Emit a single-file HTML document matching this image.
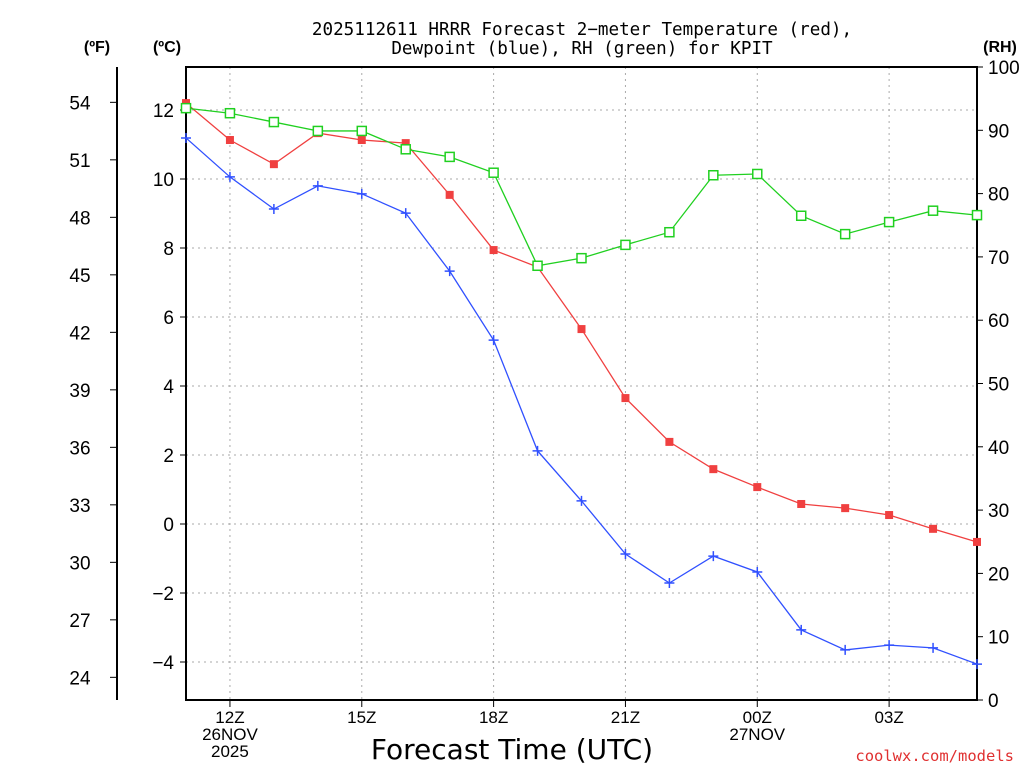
<!DOCTYPE html>
<html><head><meta charset="utf-8"><style>
body{margin:0;background:#fff;}
svg{display:block;font-family:"Liberation Sans","DejaVu Sans",sans-serif;}
</style></head><body>
<svg id="chart" width="1024" height="768">
<g id="grid"></g><g id="axes"></g><g id="series"></g>
<text x="582" y="35" font-size="17.6" font-family="DejaVu Sans Mono, monospace" text-anchor="middle">2025112611 HRRR Forecast 2−meter Temperature (red),</text>
<text x="582" y="54" font-size="17.6" font-family="DejaVu Sans Mono, monospace" text-anchor="middle">Dewpoint (blue), RH (green) for KPIT</text>
<text x="97" y="52" font-size="16" font-weight="bold" text-anchor="middle">(ºF)</text>
<text x="167" y="52" font-size="16" font-weight="bold" text-anchor="middle">(ºC)</text>
<text x="1000" y="52" font-size="16" font-weight="bold" text-anchor="middle">(RH)</text>
<text x="512" y="759" font-size="28" font-family="DejaVu Sans, sans-serif" text-anchor="middle">Forecast Time (UTC)</text>
<text x="1014" y="761" font-size="15.5" font-family="DejaVu Sans Mono, monospace" fill="#e03030" text-anchor="end">coolwx.com/models</text>
</svg>
<script>
const hours=[11,12,13,14,15,16,17,18,19,20,21,22,23,24,25,26,27,28,29];
const tempC=[12.2,11.13,10.43,11.33,11.13,11.04,9.54,7.94,7.45,5.65,3.65,2.38,1.59,1.07,0.58,0.46,0.26,-0.14,-0.52];
const dewC=[11.19,10.06,9.13,9.8,9.57,9.01,7.33,5.33,2.12,0.67,-0.87,-1.71,-0.93,-1.39,-3.07,-3.65,-3.51,-3.59,-4.06];
const rh=[93.5,92.7,91.3,89.9,89.9,87.0,85.8,83.3,68.6,69.8,71.9,73.9,82.9,83.1,76.5,73.6,75.5,77.3,76.6];
const cTicks=[-4,-2,0,2,4,6,8,10,12];
const fTicks=[24,27,30,33,36,39,42,45,48,51,54];
const rhTicks=[0,10,20,30,40,50,60,70,80,90,100];
const xTicks=[{h:12,l:["12Z","26NOV","2025"]},{h:15,l:["15Z"]},{h:18,l:["18Z"]},{h:21,l:["21Z"]},{h:24,l:["00Z","27NOV"]},{h:27,l:["03Z"]}];

const L=186,R=977,T=67,B=700;
const x=h=>L+(h-11)*(R-L)/18;
const yC=c=>524-c*34.5;
const yF=f=>yC((f-32)*5/9);
const yR=r=>B-r*(B-T)/100;
const NS="http://www.w3.org/2000/svg";
function mk(p,tag,a,txt){const e=document.createElementNS(NS,tag);for(const k in a)e.setAttribute(k,a[k]);if(txt!=null)e.textContent=txt;p.appendChild(e);return e;}
const grid=document.getElementById('grid'),axes=document.getElementById('axes'),ser=document.getElementById('series');
cTicks.forEach(c=>{
 const g=mk(grid,'line',{x1:L,x2:R,y1:yC(c),y2:yC(c),stroke:'#aaa','stroke-dasharray':'2,4'});
 
 
 mk(axes,'line',{x1:L-6,x2:L,y1:yC(c),y2:yC(c),stroke:'#000'});
 const t=mk(axes,'text',{x:L-12,y:yC(c)+7,'font-size':19,'text-anchor':'end'},c<0?'−'+(-c):c);
 
 
});
xTicks.forEach(o=>{
 const g=mk(grid,'line',{x1:x(o.h),x2:x(o.h),y1:T,y2:B,stroke:'#aaa','stroke-dasharray':'2,4'});
 
 
 mk(axes,'line',{x1:x(o.h),x2:x(o.h),y1:B,y2:B+7,stroke:'#000'});
 o.l.forEach((s,i)=>{const t=mk(axes,'text',{x:x(o.h),y:723+i*17,'font-size':17,'text-anchor':'middle'},s);
 
 });
});
fTicks.forEach(f=>{
 mk(axes,'line',{x1:110,x2:117,y1:yF(f),y2:yF(f),stroke:'#000'});
 const t=mk(axes,'text',{x:80,y:yF(f)+7,'font-size':19,'text-anchor':'middle'},f);
 
 
});
mk(axes,'line',{x1:117,x2:117,y1:T,y2:B,stroke:'#000','stroke-width':2});
rhTicks.forEach(r=>{
 mk(axes,'line',{x1:R,x2:R+6,y1:yR(r),y2:yR(r),stroke:'#000'});
 const t=mk(axes,'text',{x:R+11,y:yR(r)+7,'font-size':19},r);
 
 
});
const frame=mk(axes,'rect',{x:L,y:T,width:R-L,height:B-T,fill:'none',stroke:'#000','stroke-width':2});



function line(vals,fy,col,name){
 const pts=vals.map((v,i)=>x(hours[i])+','+fy(v)).join(' ');
 const p=mk(ser,'polyline',{points:pts,fill:'none',stroke:col,'stroke-width':1.3});
 
 
}
line(dewC,yC,'#3050ff','dewpoint');
line(tempC,yC,'#f04040','temperature');
line(rh,yR,'#20d020','rh');
dewC.forEach((v,i)=>{const cx=x(hours[i]),cy=yC(v);
 const g=mk(ser,'path',{d:`M${cx-5},${cy}H${cx+5}M${cx},${cy-5}V${cy+5}`,stroke:'#3050ff','stroke-width':1.5});
 
 });
tempC.forEach((v,i)=>{const cx=x(hours[i]),cy=yC(v);
 const g=mk(ser,'rect',{x:cx-4,y:cy-4,width:8,height:8,fill:'#f04040'});
 
 });
rh.forEach((v,i)=>{const cx=x(hours[i]),cy=yR(v);
 const g=mk(ser,'rect',{x:cx-4.5,y:cy-4.5,width:9,height:9,fill:'#fff',stroke:'#20d020','stroke-width':1.5});
 
 });
</script>
</body></html>
